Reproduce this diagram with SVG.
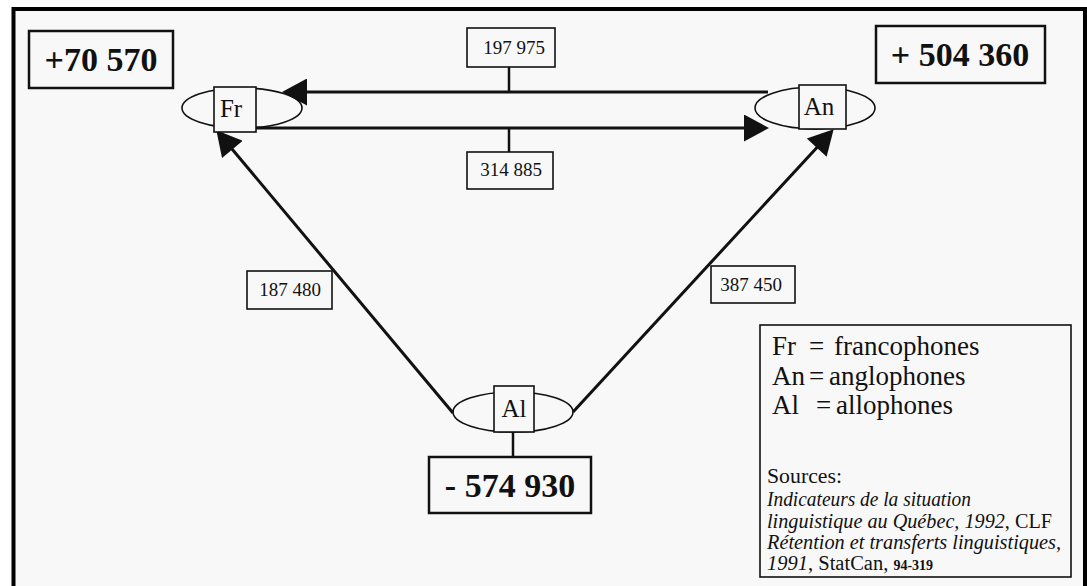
<svg xmlns="http://www.w3.org/2000/svg" width="1087" height="586" viewBox="0 0 1087 586">
  <style>
    .frame { fill: #f8f8f8; stroke: #000; stroke-width: 4; }
    .total { fill: #f8f8f8; stroke: #111; stroke-width: 2.5; }
    .total-text { font-family: "Liberation Serif", "Times New Roman", serif; font-weight: bold; font-size: 34px; fill: #111; text-anchor: middle; }
    .flow { fill: #f8f8f8; stroke: #111; stroke-width: 1.6; }
    .flow-text { font-family: "Liberation Serif", "Times New Roman", serif; font-size: 19px; fill: #111; text-anchor: middle; }
    .ell { fill: none; stroke: #111; stroke-width: 1.6; }
    .tag { fill: #f8f8f8; stroke: #111; stroke-width: 1.6; }
    .tag-text { font-family: "Liberation Serif", "Times New Roman", serif; font-size: 25px; fill: #111; text-anchor: middle; }
    .arrow { fill: none; stroke: #111; stroke-width: 3; marker-end: url(#head); }
    .stem { fill: none; stroke: #111; stroke-width: 2.5; }
    .legend { fill: #f8f8f8; stroke: #111; stroke-width: 1.6; }
    .legend-text { font-family: "Liberation Serif", "Times New Roman", serif; font-size: 27px; fill: #111; }
    .src { font-family: "Liberation Serif", "Times New Roman", serif; font-size: 20.5px; fill: #111; }
    .it { font-style: italic; }
    .code { font-size: 14px; font-weight: bold; }
  </style>
  <defs>
    <marker id="head" markerUnits="userSpaceOnUse" markerWidth="27" markerHeight="27" viewBox="0 0 25 27" refX="14" refY="13.5" orient="auto">
      <path d="M0,0 L25,13.5 L0,27 z" fill="#111"/>
    </marker>
  </defs>

  <rect width="1087" height="586" fill="#ffffff"/>
  <rect class="frame" x="13.5" y="9" width="1071.5" height="600"/>

  <!-- connectors -->
  <g id="connectors">
    <line class="arrow" x1="768" y1="92" x2="293" y2="92"/>
    <line class="arrow" x1="256" y1="128" x2="758" y2="128"/>
    <line class="arrow" x1="453" y1="413" x2="223.4" y2="138.7"/>
    <line class="arrow" x1="573" y1="412" x2="826.2" y2="137.4"/>
    <line class="stem" x1="509" y1="67" x2="509" y2="92"/>
    <line class="stem" x1="509" y1="128" x2="509" y2="152"/>
    <line class="stem" x1="513" y1="432" x2="513" y2="457"/>
  </g>

  <!-- net totals -->
  <g id="total-fr">
    <rect class="total" x="29" y="31" width="144" height="57"/>
    <text class="total-text" x="101" y="71">+70 570</text>
  </g>
  <g id="total-an">
    <rect class="total" x="876" y="26" width="169" height="57"/>
    <text class="total-text" x="960" y="66">+ 504 360</text>
  </g>
  <g id="total-al">
    <rect class="total" x="429" y="457" width="162" height="56"/>
    <text class="total-text" x="510" y="497">- 574 930</text>
  </g>

  <!-- language groups -->
  <g id="node-fr">
    <ellipse class="ell" cx="242" cy="108" rx="60" ry="20"/>
    <rect class="tag" x="214" y="87" width="42" height="45"/>
    <text class="tag-text" x="231" y="117">Fr</text>
  </g>
  <g id="node-an">
    <ellipse class="ell" cx="815" cy="108" rx="60" ry="21"/>
    <rect class="tag" x="799" y="85" width="47" height="44"/>
    <text class="tag-text" x="819" y="115">An</text>
  </g>
  <g id="node-al">
    <ellipse class="ell" cx="513" cy="412" rx="60" ry="20"/>
    <rect class="tag" x="494" y="386" width="40" height="46"/>
    <text class="tag-text" x="514" y="417">Al</text>
  </g>

  <!-- transfer counts -->
  <g id="flow-an-fr">
    <rect class="flow" x="467" y="28" width="88" height="39"/>
    <text class="flow-text" x="514" y="54">197 975</text>
  </g>
  <g id="flow-fr-an">
    <rect class="flow" x="467" y="152" width="86" height="37"/>
    <text class="flow-text" x="511" y="176">314 885</text>
  </g>
  <g id="flow-al-fr">
    <rect class="flow" x="247" y="271" width="85" height="38"/>
    <text class="flow-text" x="290" y="296">187 480</text>
  </g>
  <g id="flow-al-an">
    <rect class="flow" x="711" y="266" width="84" height="37"/>
    <text class="flow-text" x="751" y="291">387 450</text>
  </g>

  <!-- legend and sources -->
  <g id="legend">
    <rect class="legend" x="760" y="325" width="311" height="252"/>
    <text class="legend-text" x="772" y="355">Fr<tspan x="809">=</tspan><tspan x="834">francophones</tspan></text>
    <text class="legend-text" x="772" y="385">An<tspan x="809">=</tspan><tspan x="829">anglophones</tspan></text>
    <text class="legend-text" x="772" y="414">Al<tspan x="816">=</tspan><tspan x="836">allophones</tspan></text>
    <text class="src" x="767" y="483" textLength="75" lengthAdjust="spacingAndGlyphs">Sources:</text>
    <text class="src it" x="767" y="506" textLength="204" lengthAdjust="spacingAndGlyphs">Indicateurs de la situation</text>
    <text class="src" x="767" y="528" textLength="285" lengthAdjust="spacingAndGlyphs"><tspan class="it">linguistique au Québec, 1992</tspan>, CLF</text>
    <text class="src it" x="767" y="549" textLength="294" lengthAdjust="spacingAndGlyphs">Rétention et transferts linguistiques,</text>
    <text class="src" x="767" y="570"><tspan class="it">1991</tspan>, StatCan, <tspan class="code">94-319</tspan></text>
  </g>
</svg>
